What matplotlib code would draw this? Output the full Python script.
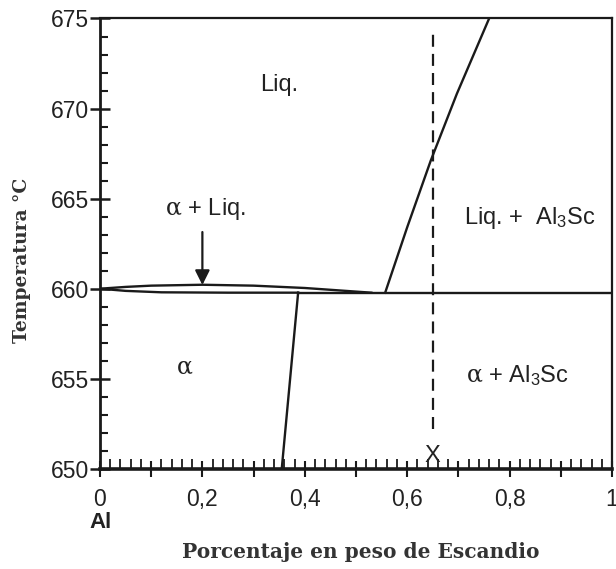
import matplotlib
matplotlib.use("Agg")
import matplotlib.pyplot as plt
from matplotlib.ticker import MultipleLocator, FuncFormatter

# sans text with a serif upright alpha from mathtext
plt.rcParams["mathtext.fontset"] = "custom"
plt.rcParams["mathtext.rm"] = "Liberation Sans"
plt.rcParams["mathtext.it"] = "DejaVu Serif"

# Al-Sc phase diagram, aluminium-rich corner
# liquidus of alpha (slight bulge above 660 C)
liq_alpha_x = [0.0, 0.05, 0.10, 0.20, 0.30, 0.40, 0.47, 0.53]
liq_alpha_t = [660.0, 660.10, 660.17, 660.22, 660.17, 660.04, 659.90, 659.78]
# solidus of alpha
sol_alpha_x = [0.0, 0.05, 0.12, 0.25, 0.387]
sol_alpha_t = [660.0, 659.88, 659.80, 659.78, 659.78]
# eutectic line
eut_x = [0.387, 1.0]
eut_t = [659.78, 659.78]
# solvus of alpha
solvus_x = [0.355, 0.387]
solvus_t = [650.0, 659.78]
# liquidus of Al3Sc
liq_al3sc_x = [0.557, 0.600, 0.646, 0.697, 0.760]
liq_al3sc_t = [659.78, 663.41, 667.11, 670.82, 675.0]
# alloy X composition
alloy_x = 0.65
alloy_t = [652.2, 674.2]

fig = plt.figure(figsize=(6.16, 5.69), dpi=100)
ax = fig.add_axes([0.1623, 0.176, 0.8312, 0.7915])

lw = 1.7
ink = "#1a1a1a"
ax.plot(liq_alpha_x, liq_alpha_t, color=ink, lw=lw)
ax.plot(sol_alpha_x, sol_alpha_t, color=ink, lw=lw)
ax.plot(eut_x, eut_t, color=ink, lw=lw)
ax.plot(solvus_x, solvus_t, color=ink, lw=lw)
ax.plot(liq_al3sc_x, liq_al3sc_t, color=ink, lw=lw)
ax.plot([alloy_x, alloy_x], alloy_t, color=ink, lw=1.6, dashes=(5.4, 3.2))

ax.set_xlim(0, 1)
ax.set_ylim(650, 675)

txt = dict(fontsize=17, color="#222222", family="Liberation Sans",
           ha="center", va="center")
ax.text(0.35, 671.3, "Liq.", **txt)
ax.text(0.205, 664.4, r"$\alpha$ + Liq.", **txt)
ax.text(0.84, 663.9, r"Liq. +  Al$_3$Sc", **txt)
ax.text(0.166, 655.6, r"$\alpha$", **txt)
ax.text(0.816, 655.2, r"$\alpha$ + Al$_3$Sc", **txt)
ax.text(alloy_x, 650.7, "X", **txt)

ax.annotate("", xy=(0.2, 660.05), xytext=(0.2, 663.3),
            arrowprops=dict(arrowstyle="-|>", color=ink, lw=1.6,
                            mutation_scale=22))

# axes frame and ticks
for side, w in (("left", 2.0), ("bottom", 2.6), ("top", 1.6), ("right", 1.6)):
    ax.spines[side].set_linewidth(w)
    ax.spines[side].set_color(ink)

ax.yaxis.set_major_locator(MultipleLocator(5))
ax.yaxis.set_minor_locator(MultipleLocator(1))
ax.xaxis.set_major_locator(MultipleLocator(0.1))
ax.xaxis.set_minor_locator(MultipleLocator(0.02))

def xfmt(v, pos):
    k = round(v * 10)
    if k % 2:
        return ""
    if k == 0:
        return "0"
    if k == 10:
        return "1"
    return ("%.1f" % v).replace(".", ",")

ax.xaxis.set_major_formatter(FuncFormatter(xfmt))
ax.yaxis.set_major_formatter(FuncFormatter(lambda v, p: "%d" % v))

ax.tick_params(axis="y", which="major", direction="inout", length=14,
               width=1.8, labelsize=16.5, pad=1, color=ink)
ax.tick_params(axis="y", which="minor", direction="in", length=6,
               width=1.5, color=ink)
ax.tick_params(axis="x", which="major", direction="inout", length=12,
               width=1.5, labelsize=16.5, pad=8, color=ink)
ax.tick_params(axis="x", which="minor", direction="in", length=7,
               width=1.3, color=ink)
for lab in ax.get_xticklabels() + ax.get_yticklabels():
    lab.set_family("Liberation Sans")
    lab.set_color("#222222")

fig.text(0.036, 0.543, "Temperatura °C", rotation=90, ha="center",
         va="center", fontsize=13.5, fontweight="bold",
         family="DejaVu Serif", color="#333333")
fig.text(0.585, 0.03, "Porcentaje en peso de Escandio", ha="center",
         va="center", fontsize=14.5, fontweight="bold",
         family="DejaVu Serif", color="#333333")
fig.text(0.163, 0.082, "Al", ha="center", va="center", fontsize=16,
         fontweight="bold", family="Liberation Sans", color="#222222")

fig.savefig("out.png", dpi=100)
